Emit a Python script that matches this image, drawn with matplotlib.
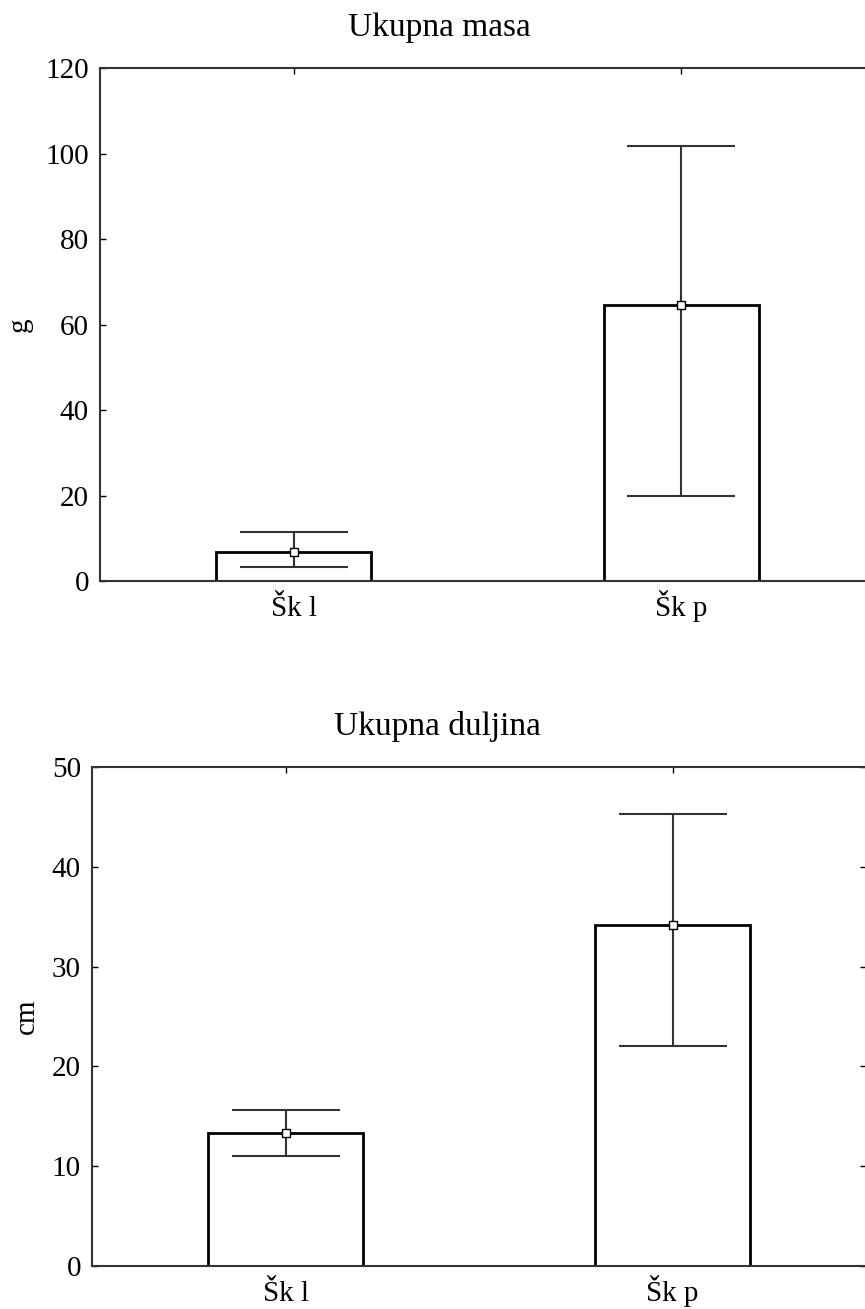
import matplotlib
matplotlib.use("Agg")
import matplotlib.pyplot as plt

# === Podaci ===
kategorije = ["Šk l", "Šk p"]

masa_sredina = [6.8, 64.6]
masa_donja = [3.2, 19.9]
masa_gornja = [11.5, 101.8]

duljina_sredina = [13.3, 34.2]
duljina_donja = [11.05, 22.0]
duljina_gornja = [15.6, 45.3]

plt.rcParams['font.family'] = ['Liberation Serif', 'DejaVu Serif']
plt.rcParams['font.size'] = 21

fig = plt.figure(figsize=(8.65, 13.09), dpi=100)

def nacrtaj(ax, sredina, donja, gornja, ylim, yticks, ylabel, label_x):
    x = list(range(len(kategorije)))
    ax.bar(x, sredina, width=0.4, color='white', edgecolor='black', linewidth=2, zorder=2)
    err = [[s - d for s, d in zip(sredina, donja)], [g - s for s, g in zip(sredina, gornja)]]
    ax.errorbar(x, sredina, yerr=err, fmt='none', ecolor='#333333', elinewidth=1.5,
                capsize=39, capthick=1.5, zorder=3)
    ax.plot(x, sredina, linestyle='none', marker='s', markersize=6,
            markerfacecolor='white', markeredgecolor='black', markeredgewidth=1, zorder=4)
    ax.set_xlim(-0.5, 1.5)
    ax.set_ylim(*ylim)
    ax.set_yticks(yticks)
    ax.set_xticks(x)
    ax.set_xticklabels(kategorije)
    ax.set_ylabel(ylabel)
    ax.yaxis.set_label_coords(label_x, 0.5)
    ax.tick_params(direction='in', top=True, right=True, length=4, width=1)
    ax.tick_params(axis='y', pad=8)
    ax.tick_params(axis='x', pad=25)
    for lbl in ax.get_xticklabels():
        lbl.set_verticalalignment('baseline')
    for s in ax.spines.values():
        s.set_linewidth(1.5)
        s.set_color('#333333')

# === Ukupna masa ===
ax1 = fig.add_axes([0.1156, 0.5561, 0.896, 0.3919])
nacrtaj(ax1, masa_sredina, masa_donja, masa_gornja, (0, 120), range(0, 121, 20), "g", -0.0865)
fig.text(439 / 865, 1 - 28 / 1309, "Ukupna masa", ha='center', va='center', fontsize=24)

# === Ukupna duljina ===
ax2 = fig.add_axes([0.1064, 0.03285, 0.8948, 0.3812])
nacrtaj(ax2, duljina_sredina, duljina_donja, duljina_gornja, (0, 50), range(0, 51, 10), "cm", -0.068)
fig.text(437 / 865, 1 - 727 / 1309, "Ukupna duljina", ha='center', va='center', fontsize=24)

fig.savefig("out.png", dpi=100)
